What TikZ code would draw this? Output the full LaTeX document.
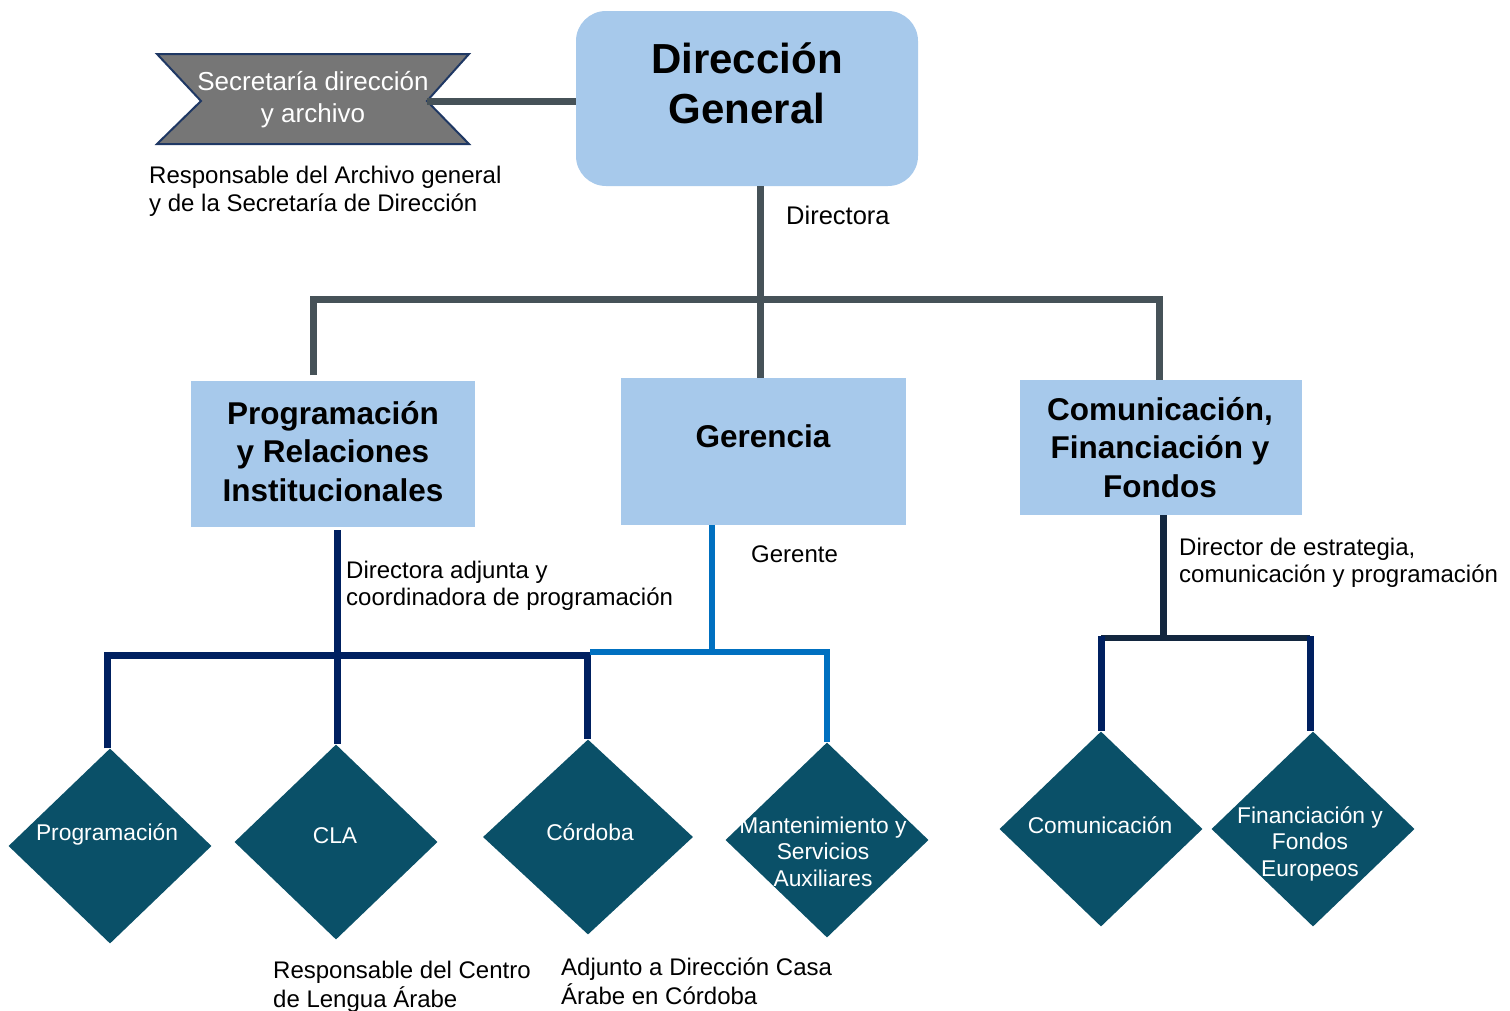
\documentclass[tikz,border=0pt]{standalone}
\usepackage{fontspec}
\setmainfont{Liberation Sans}
\usetikzlibrary{shapes.geometric}
\definecolor{lblue}{HTML}{A7C9EB}
\definecolor{gline}{HTML}{465258}
\definecolor{navyc}{HTML}{002060}
\definecolor{bluec}{HTML}{0070C0}
\definecolor{dnavy}{HTML}{13273F}
\definecolor{dteal}{HTML}{0A5068}
\definecolor{secfill}{HTML}{767676}
\definecolor{secline}{HTML}{1F3864}
\newcommand\mlc[1]{\begin{tabular}[t]{@{}c@{}}#1\end{tabular}}
\newcommand\mll[1]{\begin{tabular}[t]{@{}l@{}}#1\end{tabular}}
\begin{document}
\begin{tikzpicture}[x=1pt,y=-1pt,
  bluebox/.style={rectangle,fill=lblue,draw=none,inner sep=0},
  btitle/.style={inner sep=0,anchor=base,font=\bfseries\fontsize{31.5}{38.5}\selectfont},
  note/.style={inner sep=0,anchor=base west,font=\fontsize{24}{27.5}\selectfont},
  dia/.style={shape=diamond,fill=dteal,draw=none,inner sep=0,minimum width=203,minimum height=195},
  dtext/.style={inner sep=0,anchor=base,text=white,font=\fontsize{22.8}{26.5}\selectfont},
  conn/.style={line width=7,line join=miter},
]
\useasboundingbox (0,0) rectangle (1510,1010);

% Direccion General
\node[bluebox,rounded corners=30,minimum width=342,minimum height=175] (dg) at (747,98.5) {};
\node[inner sep=0,anchor=base,font=\bfseries\fontsize{42}{50}\selectfont] (dgt) at (747,73) {\mlc{Dirección\\General}};

% Secretaria
\draw[fill=secfill,draw=secline,line width=2] (157,54) -- (469,54) -- (427,101) -- (469,144) -- (157,144) -- (201,101) -- cycle;
\coordinate (sec) at (427,101);
\node[inner sep=0,anchor=base,text=white,font=\fontsize{26}{32}\selectfont] (sect) at (313,90) {\mlc{Secretaría dirección\\y archivo}};
\node[note,font=\fontsize{24}{28}\selectfont] (secnote) at (149,183) {\mll{Responsable del Archivo general\\y de la Secretaría de Dirección}};
\draw[gline,line width=7] (sec) -- (sec -| dg.west);

% Level 2 boxes
\node[bluebox,minimum width=284,minimum height=146] (prog) at (333,454) {};
\node[btitle] (progt) at (333,424) {\mlc{Programación\\y Relaciones\\Institucionales}};
\node[bluebox,minimum width=285,minimum height=147] (ger) at (763.5,451.5) {};
\node[btitle] (gert) at (763,447) {Gerencia};
\node[bluebox,minimum width=282,minimum height=135] (cff) at (1161,447.5) {};
\node[btitle] (cfft) at (1160,420) {\mlc{Comunicación,\\Financiación y\\Fondos}};

\node[note,font=\fontsize{25.5}{28}\selectfont] (directora) at (786,224) {Directora};

% top trunk
\coordinate (t1) at (760,299);
\coordinate (tl) at (313,299);
\coordinate (tlb) at (313,375);
\coordinate (tr) at (1159,299);
\draw[conn,gline] (dg.south -| t1) -- (ger.north -| t1);
\draw[conn,gline] (tlb) -- (tl) -- (tr) -- (tr |- cff.north);

% Diamonds
\node[dia] (dprog) at (110,846) {};
\node[dtext] (dprogt) at (107,840) {Programación};
\node[dia] (dcla) at (336,842) {};
\node[dtext] (dclat) at (335,843) {CLA};
\node[dia,minimum width=210] (dcor) at (588,837) {};
\node[dtext] (dcort) at (590,840) {Córdoba};
\node[dia] (dman) at (827,840) {};
\node[dtext] (dmant) at (823,833) {\mlc{Mantenimiento y\\Servicios\\Auxiliares}};
\node[dia] (dcom) at (1101,829) {};
\node[dtext] (dcomt) at (1100,833) {Comunicación};
\node[dia] (dfin) at (1313,829) {};
\node[dtext] (dfint) at (1310,823) {\mlc{Financiación y\\Fondos\\Europeos}};

% Prog branch
\coordinate (pj) at (337,655);
\coordinate (pl) at (107,655);
\coordinate (pr) at (587,655);
\draw[conn,navyc] (prog.south -| pj) ++(0,3) -- (dcla.north -| pj);
\draw[conn,navyc] (dprog.north -| pl) -- (pl) -- (pr) -- (dcor.north -| pr);
\node[note] (diradj) at (346,578) {\mll{Directora adjunta y\\coordinadora de programación}};

% Gerencia branch
\coordinate (gj) at (712,652);
\coordinate (gl) at (590,652);
\coordinate (gr) at (827,652);
\draw[line width=6,bluec] (ger.south -| gj) -- (gj);
\draw[line width=6,bluec,line join=miter] (gl) -- (gr) -- (dman.north -| gr);
\node[note] (gerente) at (751,562) {Gerente};

% CFF branch
\coordinate (cj) at (1163,638);
\coordinate (cl) at (1101,638);
\coordinate (cr) at (1310,638);
\draw[line width=7,dnavy] (cff.south -| cj) -- (cj);
\draw[line width=6,dnavy] (cl) -- (cr);
\draw[line width=7,navyc] (cl) ++(0,-2) -- (dcom.north -| cl);
\draw[line width=7,navyc] (cr) ++(0,-2) -- (dfin.north -| cr);
\node[note] (direst) at (1179,555) {\mll{Director de estrategia,\\comunicación y programación}};

% bottom notes
\node[note] (clanote) at (273,978) {\mll{Responsable del Centro\\de Lengua Árabe}};
\node[note] (cornote) at (561,975) {\mll{Adjunto a Dirección Casa\\Árabe en Córdoba}};
\end{tikzpicture}
\end{document}
